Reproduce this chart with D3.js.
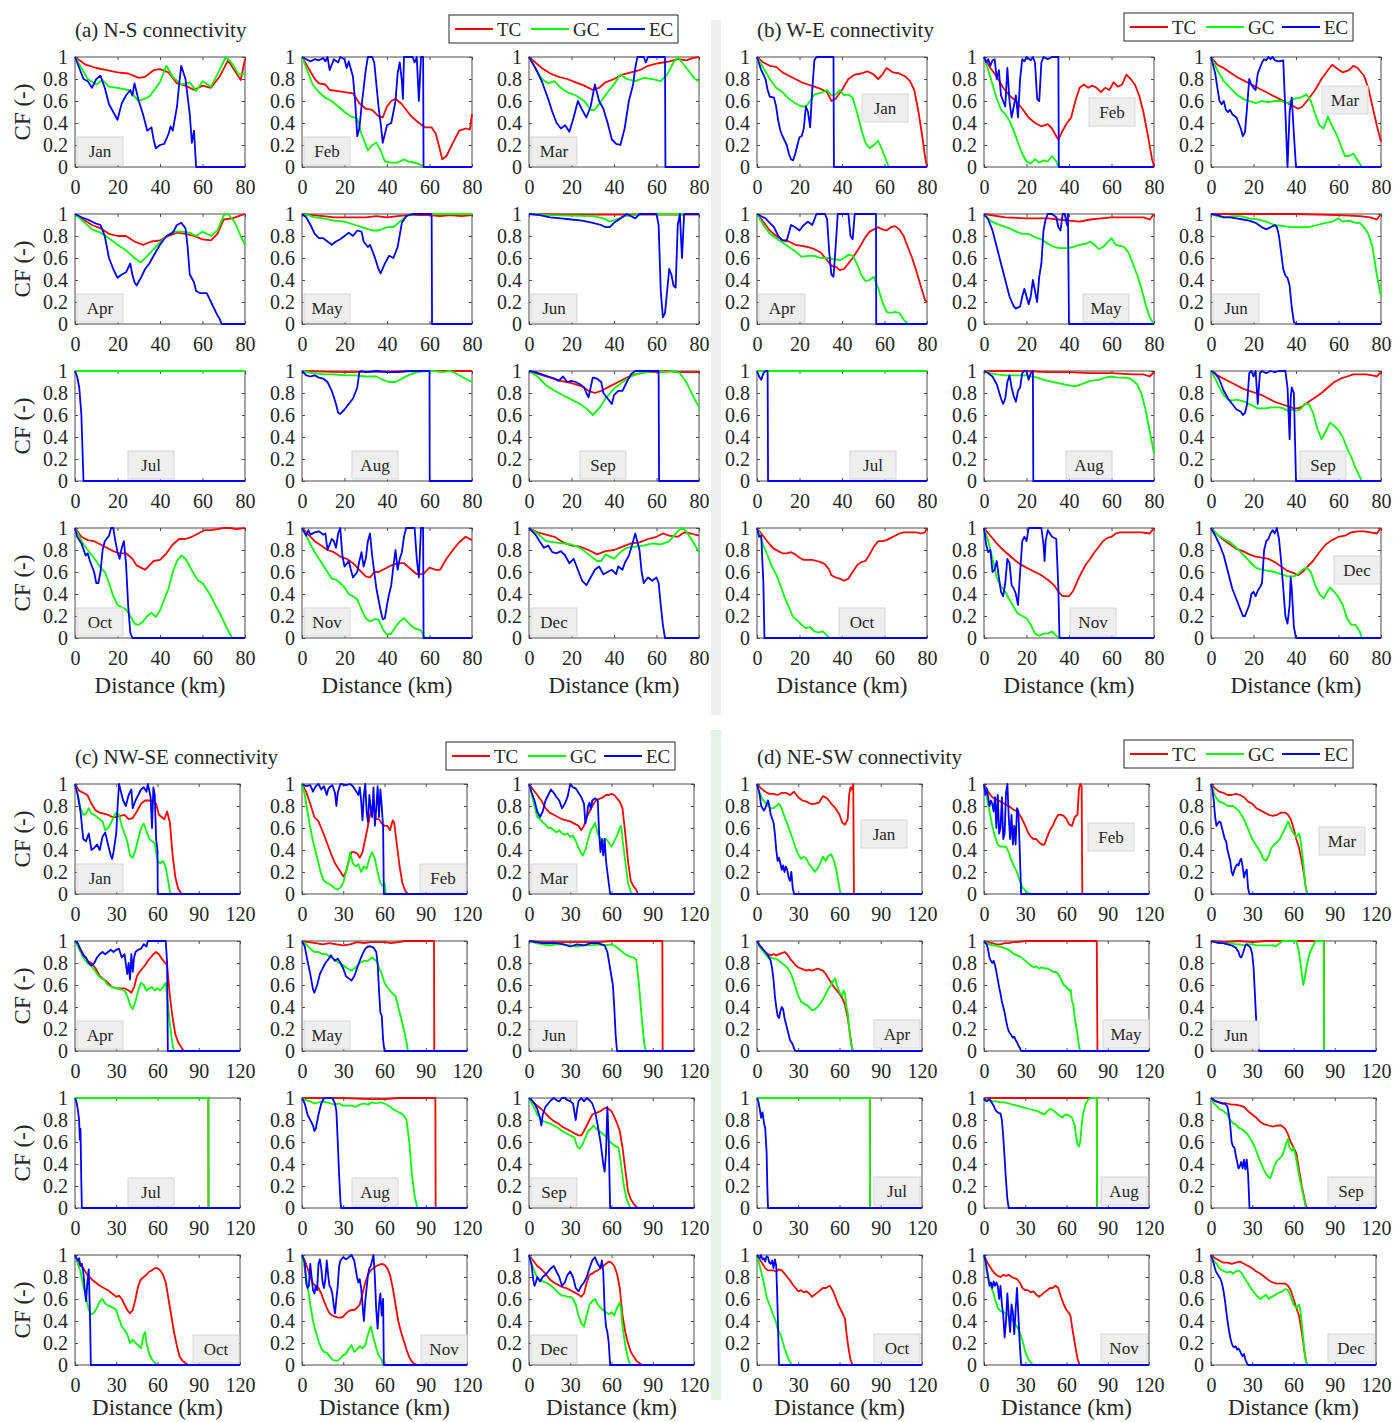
<!DOCTYPE html>
<html>
<head>
<meta charset="utf-8">
<script src="https://cdn.jsdelivr.net/npm/d3@7"></script>
<style>
  body { margin: 0; background: #fff; }
  svg { display: block; font-family: "Liberation Serif", "Times New Roman", serif; }
</style>
</head>
<body>
<svg id="fig" width="1394" height="1422"></svg>
<script>
// ---- shared labels and ticks ----
const months = ["Jan","Feb","Mar","Apr","May","Jun","Jul","Aug","Sep","Oct","Nov","Dec"];
const seriesNames = ["TC","GC","EC"];
const yTicks = [0, 0.2, 0.4, 0.6, 0.8, 1];
const xTicksAB = [0, 20, 40, 60, 80];
const xTicksCD = [0, 30, 60, 90, 120];

// ---- connectivity function CF(distance); each month: flat list x0,y0,x1,y1,... (km, -) ----
// (a) N-S
const NS_TC = [
 [0,1,5,0.93,10,0.9,15,0.88,20,0.86,25,0.85,30,0.81,33,0.82,37,0.88,40,0.89,44,0.86,48,0.76,52,0.74,56,0.7,60,0.74,64,0.72,68,0.82,72,0.97,75,0.88,78,0.79,80,0.98],
 [0,1,3,0.9,6,0.8,8,0.76,11,0.75,13,0.7,17,0.69,20,0.68,24,0.67,27,0.58,30,0.53,33,0.52,36,0.46,38,0.45,40,0.55,42,0.6,44,0.62,47,0.57,51,0.47,55,0.4,58,0.36,61,0.36,63,0.3,65,0.15,66,0.07,68,0.1,71,0.22,74,0.33,77,0.35,79,0.34,80,0.48],
 [0,1,3,0.95,6,0.9,10,0.85,14,0.82,18,0.8,22,0.77,26,0.74,30,0.7,33,0.72,36,0.77,40,0.8,44,0.84,48,0.86,52,0.88,56,0.92,60,0.94,63,0.95,66,0.96,70,0.98,74,0.97,77,0.99,80,1],
 [0,1,4,0.95,8,0.9,12,0.87,16,0.82,20,0.8,24,0.8,28,0.75,32,0.72,36,0.75,40,0.76,44,0.8,48,0.83,52,0.82,56,0.8,60,0.77,64,0.76,67,0.82,70,0.95,74,0.96,77,0.98,80,1],
 [0,1,5,0.99,10,0.98,15,0.97,20,0.97,25,0.97,30,0.97,35,0.98,40,0.97,45,0.98,50,0.99,55,0.99,60,0.99,65,0.98,70,0.99,75,0.98,80,0.99],
 [0,1,20,0.995,40,0.995,60,0.995,80,0.995],
 [0,1,80,1],
 [0,1,10,0.995,20,0.99,40,0.995,60,1,80,1],
 [0,1,5,0.97,10,0.94,15,0.91,20,0.89,25,0.86,28,0.82,31,0.8,34,0.82,38,0.86,42,0.9,46,0.94,50,0.97,55,0.99,60,0.99,65,1,70,0.99,75,0.99,80,0.99],
 [0,1,3,0.92,6,0.89,9,0.88,12,0.85,15,0.82,18,0.79,21,0.77,24,0.77,27,0.72,29,0.66,31,0.64,33,0.62,35,0.66,37,0.7,40,0.71,43,0.77,46,0.85,49,0.9,52,0.9,55,0.92,58,0.95,61,0.98,64,0.98,67,0.99,70,1,73,1,76,0.99,80,1],
 [0,1,3,0.94,6,0.88,9,0.84,12,0.8,15,0.78,18,0.74,21,0.72,24,0.68,27,0.62,30,0.56,32,0.55,34,0.6,36,0.6,39,0.63,42,0.66,45,0.68,48,0.68,51,0.63,54,0.58,57,0.58,60,0.64,63,0.62,65,0.62,68,0.72,71,0.8,74,0.87,77,0.92,80,0.89],
 [0,1,4,0.96,8,0.94,12,0.92,16,0.87,20,0.84,24,0.83,28,0.8,32,0.76,36,0.79,40,0.8,44,0.83,48,0.86,52,0.87,56,0.9,60,0.92,63,0.95,66,0.93,70,0.92,73,0.96,76,0.95,80,0.93]
];
const NS_GC = [
 [0,1,3,0.9,6,0.8,10,0.75,13,0.79,16,0.73,20,0.72,25,0.7,30,0.6,35,0.64,40,0.77,43,0.92,46,0.82,50,0.75,54,0.77,57,0.69,60,0.78,64,0.73,68,0.88,71,1,74,0.94,77,0.84,80,0.85],
 [0,1,3,0.85,5,0.75,8,0.68,11,0.63,14,0.6,17,0.55,20,0.5,23,0.46,26,0.44,28,0.3,31,0.15,33,0.2,35,0.22,37,0.15,39,0.05,42,0.04,45,0.04,48,0.07,50,0.05,53,0.04,56,0.02,57,0,80,0],
 [0,1,3,0.9,6,0.8,9,0.76,12,0.78,15,0.72,18,0.68,22,0.65,26,0.6,29,0.52,31,0.52,34,0.6,37,0.68,40,0.75,43,0.84,46,0.8,50,0.78,54,0.81,58,0.8,62,0.78,65,0.84,68,0.95,70,1,72,0.95,75,0.88,78,0.8,80,0.78],
 [0,1,4,0.93,8,0.86,12,0.83,16,0.78,20,0.72,24,0.67,28,0.6,31,0.56,34,0.62,38,0.7,42,0.78,46,0.84,50,0.84,54,0.83,57,0.8,60,0.84,64,0.8,67,0.85,70,0.99,72,1,75,0.93,78,0.8,80,0.72],
 [0,1,3,0.99,6,0.97,10,0.96,15,0.94,20,0.93,25,0.9,30,0.87,33,0.85,36,0.85,40,0.88,43,0.88,46,0.93,50,0.99,55,1,80,1],
 [0,1,10,0.99,20,0.985,30,0.98,35,0.96,38,0.93,41,0.95,45,0.98,50,0.99,55,1,80,1],
 [0,1,80,1],
 [0,1,5,0.98,10,0.97,15,0.97,20,0.96,25,0.96,30,0.95,35,0.95,38,0.92,41,0.9,44,0.9,47,0.93,50,0.96,54,0.99,58,1,62,1,66,0.99,70,1,73,0.97,77,0.93,80,0.9],
 [0,1,4,0.95,8,0.87,12,0.82,16,0.78,20,0.74,24,0.7,27,0.66,30,0.6,33,0.66,36,0.75,40,0.84,44,0.9,48,0.95,52,0.98,56,0.99,60,1,64,0.99,68,1,71,0.98,74,0.9,77,0.78,80,0.67],
 [0,1,2,0.92,4,0.85,6,0.8,8,0.75,10,0.7,12,0.64,14,0.6,16,0.5,18,0.38,20,0.3,22,0.28,24,0.26,26,0.2,28,0.13,30,0.12,32,0.15,34,0.2,36,0.23,38,0.19,40,0.25,42,0.35,44,0.45,46,0.6,48,0.7,50,0.75,52,0.72,54,0.65,56,0.58,58,0.52,60,0.5,62,0.44,64,0.38,66,0.3,68,0.23,70,0.15,72,0.07,74,0,80,0],
 [0,1,2,0.93,4,0.85,6,0.78,8,0.72,10,0.66,12,0.6,14,0.54,16,0.53,18,0.5,20,0.46,22,0.4,24,0.38,26,0.35,28,0.26,30,0.18,32,0.15,34,0.17,36,0.17,38,0.08,40,0.03,42,0.04,44,0.1,46,0.15,48,0.18,50,0.14,52,0.1,54,0.08,56,0.07,57,0.03,58,0,80,0],
 [0,1,4,0.95,8,0.88,12,0.87,16,0.86,20,0.85,24,0.82,28,0.76,32,0.7,34,0.7,36,0.76,38,0.74,40,0.72,43,0.78,46,0.82,50,0.83,54,0.84,58,0.86,62,0.85,66,0.88,70,0.97,72,1,74,0.97,77,0.88,80,0.78]
];
const NS_EC = [
 [0,1,2,0.9,4,0.8,6,0.78,8,0.72,10,0.8,12,0.83,14,0.72,16,0.57,18,0.5,20,0.43,22,0.58,24,0.65,26,0.7,27,0.65,28,0.76,30,0.6,32,0.48,34,0.33,36,0.36,37,0.25,38,0.17,40,0.2,42,0.21,44,0.3,45,0.37,46,0.33,48,0.55,49,0.75,50,0.92,52,0.8,54,0.48,55,0.22,56,0.33,57,0,80,0],
 [0,1,2,0.98,4,0.96,6,0.98,8,0.97,10,0.99,11,0.96,12,1,13,0.88,15,0.98,17,0.95,18,1,20,0.98,21,0.9,22,0.96,24,0.82,25,0.6,26,0.28,27,0.35,28,0.55,30,0.88,31,1,33,1,34,0.95,35,0.75,36,0.55,37,0.4,38,0.22,39,0.3,40,0.38,42,0.4,44,0.6,45,0.85,46,0.95,47,0.78,47.5,0.62,48,1,52,1,53,0.95,54,1,55,0.6,56,1,57,1,57.2,0,80,0],
 [0,1,3,0.9,6,0.78,9,0.62,11,0.5,13,0.4,15,0.35,17,0.38,19,0.32,21,0.45,23,0.6,25,0.52,27,0.45,29,0.55,31,0.75,33,0.6,35,0.53,37,0.4,39,0.25,41,0.21,43,0.2,45,0.35,47,0.6,49,0.75,50,0.9,51,1,54,1,55,0.95,56,1,64,1,64.2,0,80,0],
 [0,1,3,0.97,6,0.95,9,0.92,12,0.9,14,0.8,16,0.6,18,0.5,20,0.42,22,0.45,24,0.47,26,0.55,27,0.45,28,0.38,29,0.35,31,0.42,33,0.5,35,0.55,37,0.62,40,0.72,43,0.8,46,0.83,48,0.9,50,0.92,52,0.87,53,0.7,54,0.45,56,0.38,57,0.3,59,0.28,62,0.28,64,0.2,66,0.12,67,0.08,68,0.05,69,0,80,0],
 [0,1,2,0.97,4,0.9,6,0.82,8,0.78,10,0.78,12,0.75,14,0.72,16,0.75,18,0.77,20,0.8,22,0.83,24,0.8,26,0.85,28,0.84,29,0.75,31,0.7,32,0.72,34,0.62,36,0.5,37,0.46,39,0.55,41,0.62,43,0.6,45,0.7,47,0.92,49,0.98,52,1,61,1,61.2,0,80,0],
 [0,1,5,0.99,10,0.97,15,0.96,20,0.95,25,0.94,30,0.92,34,0.9,36,0.88,38,0.88,40,0.92,43,0.96,46,1,48,0.98,50,0.96,52,1,60,1,61,0.9,62,0.3,63,0.06,64,0.1,65,0.3,66,0.5,67,0.45,68,0.35,69,0.33,70,0.9,71,1,72,0.6,73,1,80,1],
 [0,1,1,0.95,2,0.85,3,0.6,3.5,0.3,4,0,80,0],
 [0,1,2,0.96,4,0.95,6,0.96,8,0.94,10,0.93,12,0.9,14,0.82,16,0.7,17,0.62,18,0.61,20,0.65,22,0.7,24,0.75,26,0.85,27,0.99,28,1,30,0.99,35,1,40,0.99,45,0.99,50,1,60,1,60.1,0,80,0],
 [0,1,3,0.99,6,0.97,9,0.95,12,0.93,14,0.91,16,0.95,18,0.9,20,0.91,22,0.9,24,0.88,26,0.85,27,0.8,28,0.76,29,0.85,30,0.94,32,0.93,34,0.9,35,0.8,37,0.75,39,0.7,40,0.78,42,0.82,44,0.82,46,0.9,48,0.97,50,1,61,1,61.2,0,80,0],
 [0,1,1,0.92,3,0.86,5,0.75,6,0.77,7,0.7,9,0.6,10,0.5,11,0.5,12,0.6,13,0.8,14,0.88,16,0.93,17,1,18,1,19,0.88,20,0.78,21,0.72,22,0.82,23,0.88,24,0.68,25,0.3,26,0.05,27,0,80,0],
 [0,1,2,0.93,3,0.98,4,0.94,6,0.96,8,0.97,10,0.94,11,0.95,12,0.8,13,0.85,14,0.9,15,0.88,16,0.82,17,0.95,18,1,19,0.75,20,0.65,22,0.7,23,0.62,24,0.55,26,0.6,27,0.7,28,0.78,29,0.65,30,0.72,31,0.88,32,0.95,33,0.75,34,0.6,35,0.45,36,0.35,37,0.25,38,0.17,39,0.18,40,0.3,41,0.4,42,0.48,43,0.65,44,0.8,45,0.62,46,0.72,47,0.78,48,0.92,49,1,53,1,54,0.72,55,0.55,56,1,57,1,57.2,0,80,0],
 [0,1,3,0.94,5,0.88,7,0.82,9,0.84,11,0.78,13,0.77,15,0.79,17,0.75,19,0.68,21,0.72,23,0.62,25,0.52,27,0.48,29,0.55,31,0.62,33,0.65,35,0.58,37,0.6,39,0.62,41,0.58,42,0.65,44,0.62,45,0.68,47,0.75,49,0.88,50,0.95,52,0.8,53,0.6,54,0.5,56,0.55,58,0.52,60,0.55,61,0.5,62,0.3,63,0.12,64,0,80,0]
];

// (b) W-E
const WE_TC = [
 [0,1,3,0.95,6,0.92,9,0.91,12,0.86,15,0.83,18,0.8,21,0.77,24,0.75,27,0.73,30,0.71,33,0.68,35,0.6,37,0.62,40,0.7,43,0.8,46,0.84,49,0.85,52,0.87,55,0.84,57,0.8,59,0.84,61,0.9,64,0.86,67,0.85,70,0.82,72,0.78,74,0.7,76,0.5,78,0.25,79,0.1,80,0],
 [0,1,3,0.9,6,0.82,9,0.72,12,0.65,15,0.6,18,0.53,21,0.45,24,0.4,27,0.37,30,0.39,32,0.35,34,0.28,35,0.25,37,0.33,39,0.4,41,0.45,43,0.6,45,0.72,47,0.75,49,0.72,51,0.74,53,0.72,55,0.68,57,0.72,59,0.7,61,0.77,63,0.73,65,0.75,67,0.84,69,0.8,71,0.75,73,0.65,75,0.5,77,0.3,79,0.08,80,0],
 [0,1,3,0.93,6,0.9,9,0.86,12,0.82,15,0.79,18,0.76,21,0.73,24,0.7,27,0.67,30,0.64,33,0.61,36,0.58,39,0.55,41,0.53,43,0.55,46,0.62,49,0.7,52,0.8,55,0.88,57,0.93,59,0.9,62,0.86,65,0.88,67,0.92,69,0.9,72,0.83,74,0.72,76,0.55,78,0.38,80,0.23],
 [0,1,3,0.93,6,0.85,9,0.8,12,0.76,15,0.75,18,0.72,21,0.71,24,0.7,27,0.68,30,0.65,33,0.58,35,0.53,37,0.52,39,0.49,41,0.5,43,0.55,45,0.6,47,0.66,49,0.72,51,0.79,53,0.84,55,0.86,57,0.88,59,0.86,61,0.85,63,0.88,65,0.89,67,0.86,69,0.8,71,0.7,73,0.6,75,0.48,77,0.35,79,0.22,80,0.2],
 [0,1,10,0.97,20,0.96,30,0.96,35,0.95,40,0.94,45,0.93,50,0.95,55,0.96,60,0.97,65,0.97,70,0.97,75,0.97,78,0.95,80,1],
 [0,1,20,1,40,1,60,0.99,70,0.98,75,0.97,78,0.95,80,1],
 [0,1,80,1],
 [0,1,10,1,20,1,30,0.99,40,0.99,50,0.98,60,0.98,70,0.97,75,0.97,78,0.95,80,0.99],
 [0,1,3,0.96,6,0.93,9,0.9,12,0.87,15,0.84,18,0.82,21,0.8,24,0.78,27,0.75,30,0.72,33,0.7,36,0.68,39,0.66,41,0.66,43,0.68,46,0.72,49,0.76,52,0.8,55,0.85,58,0.9,61,0.93,64,0.95,67,0.97,70,0.97,73,0.97,76,0.96,78,0.95,80,0.99],
 [0,1,2,0.95,4,0.9,6,0.85,8,0.81,10,0.79,12,0.77,14,0.77,16,0.78,18,0.76,20,0.73,22,0.71,24,0.71,26,0.71,28,0.7,30,0.69,32,0.67,34,0.62,35,0.57,37,0.55,39,0.54,41,0.52,43,0.54,45,0.6,47,0.66,49,0.69,51,0.7,53,0.76,55,0.83,57,0.88,59,0.88,61,0.89,63,0.91,65,0.93,67,0.95,69,0.96,71,0.96,75,0.96,77,0.95,79,0.96,80,1],
 [0,1,3,0.93,6,0.86,9,0.8,12,0.75,15,0.7,18,0.66,21,0.63,24,0.6,27,0.57,30,0.53,33,0.48,35,0.42,37,0.38,40,0.38,42,0.43,44,0.52,46,0.6,48,0.67,50,0.72,52,0.78,54,0.83,56,0.88,58,0.91,60,0.92,62,0.95,64,0.96,70,0.96,74,0.96,78,0.95,80,1],
 [0,1,3,0.94,6,0.89,9,0.85,12,0.81,15,0.79,18,0.76,21,0.74,24,0.73,27,0.72,30,0.69,33,0.65,36,0.61,39,0.59,41,0.57,43,0.6,45,0.64,48,0.7,51,0.78,54,0.85,57,0.89,60,0.92,63,0.93,66,0.96,69,0.97,72,0.97,75,0.96,78,0.95,80,1]
];
const WE_GC = [
 [0,1,3,0.9,6,0.8,9,0.72,12,0.68,15,0.62,18,0.58,21,0.55,23,0.55,25,0.6,27,0.66,29,0.67,31,0.68,33,0.7,35,0.65,37,0.66,39,0.7,41,0.65,43,0.66,45,0.63,47,0.5,49,0.35,51,0.22,53,0.17,55,0.2,57,0.24,59,0.15,61,0.05,62,0,80,0],
 [0,1,2,0.88,4,0.75,6,0.62,8,0.52,10,0.48,12,0.42,14,0.33,16,0.22,18,0.12,20,0.05,22,0.03,24,0.07,26,0.04,28,0.06,30,0.05,32,0.1,34,0.05,35,0,80,0],
 [0,1,3,0.88,6,0.78,9,0.72,12,0.66,15,0.62,18,0.6,21,0.58,24,0.6,27,0.59,30,0.6,33,0.6,36,0.58,39,0.62,42,0.63,45,0.66,47,0.6,49,0.48,51,0.38,53,0.35,55,0.46,57,0.37,59,0.3,61,0.2,63,0.1,65,0.1,67,0.12,69,0.06,71,0,80,0],
 [0,1,3,0.9,6,0.82,9,0.78,12,0.74,15,0.7,18,0.66,21,0.61,24,0.62,27,0.62,30,0.6,33,0.6,36,0.59,39,0.58,41,0.6,43,0.63,45,0.62,47,0.55,49,0.45,51,0.39,53,0.4,55,0.43,57,0.33,59,0.2,61,0.11,63,0.1,65,0.11,67,0.1,69,0.04,71,0,80,0],
 [0,1,3,0.94,6,0.91,9,0.89,12,0.87,15,0.84,18,0.82,21,0.82,24,0.79,27,0.77,30,0.73,33,0.7,36,0.69,39,0.69,42,0.7,45,0.72,48,0.73,50,0.75,52,0.72,54,0.68,56,0.7,58,0.74,60,0.78,62,0.72,64,0.71,66,0.7,68,0.65,70,0.55,72,0.45,74,0.33,76,0.18,78,0.06,80,0],
 [0,1,3,0.98,6,0.97,10,0.98,14,0.98,18,0.96,22,0.95,26,0.93,30,0.9,34,0.89,38,0.88,42,0.88,46,0.88,50,0.9,54,0.92,57,0.93,60,0.96,62,0.93,65,0.94,68,0.92,70,0.92,72,0.88,74,0.82,76,0.7,78,0.45,80,0.25],
 [0,1,80,1],
 [0,1,3,0.98,6,0.97,10,0.96,15,0.96,20,0.96,25,0.94,30,0.91,35,0.89,40,0.87,43,0.86,46,0.88,50,0.91,54,0.92,57,0.94,60,0.95,63,0.94,66,0.94,69,0.93,72,0.88,74,0.8,76,0.65,78,0.45,80,0.25],
 [0,1,2,0.93,4,0.85,6,0.78,8,0.74,10,0.73,12,0.74,14,0.73,16,0.72,18,0.7,20,0.68,22,0.66,24,0.66,26,0.66,28,0.67,30,0.67,32,0.67,34,0.66,36,0.64,38,0.65,40,0.64,42,0.65,44,0.7,46,0.7,48,0.62,50,0.48,52,0.38,54,0.45,56,0.53,58,0.5,60,0.46,62,0.4,64,0.3,66,0.22,68,0.12,70,0.04,71,0,80,0],
 [0,1,1,0.96,2,0.9,3,0.84,5,0.75,7,0.65,9,0.58,11,0.48,13,0.37,15,0.28,17,0.19,19,0.16,21,0.12,23,0.09,25,0.1,27,0.06,29,0.05,31,0.06,33,0.02,34,0,80,0],
 [0,1,2,0.88,4,0.72,6,0.55,8,0.47,10,0.42,12,0.35,14,0.28,16,0.22,18,0.2,20,0.18,22,0.12,24,0.04,26,0.02,28,0.04,30,0.04,32,0.06,34,0.02,35,0,80,0],
 [0,1,3,0.94,6,0.9,9,0.87,12,0.82,15,0.76,18,0.7,21,0.64,24,0.62,27,0.61,30,0.6,33,0.58,36,0.56,39,0.56,41,0.58,43,0.62,45,0.64,47,0.6,49,0.48,51,0.4,53,0.36,55,0.43,56,0.46,58,0.42,60,0.37,62,0.3,64,0.18,66,0.12,68,0.12,70,0.06,71,0,80,0]
];
const WE_EC = [
 [0,1,2,0.88,4,0.8,5,0.7,6,0.64,8,0.63,9,0.55,10,0.42,11,0.33,12,0.28,14,0.2,15,0.12,16,0.07,17,0.06,18,0.12,19,0.2,20,0.27,21,0.28,22,0.35,23,0.55,24,0.5,25,0.36,26,0.7,27,0.97,28,1,36,1,36.2,0,80,0],
 [0,1,1,0.95,2,0.98,3,0.92,4,0.97,5,0.98,6,0.8,7,0.88,8,0.65,9,0.6,10,0.55,11,0.9,12,0.6,13,0.45,14,0.55,15,0.65,16,0.45,17,0.8,18,0.98,19,0.96,20,1,22,0.97,23,1,24,0.95,25,0.62,26,0.6,27,0.95,28,1,30,0.98,32,1,35,1,35.2,0,80,0],
 [0,1,2,0.85,3,0.72,4,0.6,5,0.57,6,0.6,7,0.52,8,0.5,9,0.52,10,0.48,12,0.45,14,0.35,15,0.28,16,0.32,17,0.55,18,0.8,19,0.75,20,0.72,21,0.7,22,0.85,23,0.9,24,0.95,25,0.98,26,0.97,27,1,28,0.98,29,1,30,0.97,32,0.96,34,0.97,35,0.5,36,0,37,0.5,38,0.63,39,0.3,40,0,80,0],
 [0,1,2,0.98,4,0.96,6,0.92,8,0.88,10,0.8,12,0.76,14,0.76,16,0.9,18,0.88,20,0.85,22,0.9,24,0.93,26,0.9,28,1,32,1,33,0.95,34,0.65,35,0.45,36,0.43,37,0.7,38,1,43,1,44,0.8,45,0.77,46,1,56,1,56.1,0,80,0],
 [0,1,2,0.95,4,0.85,6,0.7,8,0.55,10,0.4,12,0.25,14,0.16,15,0.14,17,0.16,18,0.25,19,0.32,20,0.25,21,0.18,22,0.25,23,0.4,24,0.3,25,0.2,26,0.43,27,0.55,28,0.85,29,0.95,30,1,32,1,34,0.97,35,0.88,36,0.85,37,1,38,1,39,0.9,39.5,1,40,0,80,0],
 [0,1,3,0.99,6,0.97,9,0.97,12,0.96,15,0.95,18,0.94,21,0.92,24,0.88,26,0.86,28,0.88,30,0.9,31,0.88,32,0.8,33,0.65,34,0.5,35,0.44,36,0.42,37,0.35,38,0.15,39,0.02,40,0,80,0],
 [0,1,1,0.95,2,0.92,3,0.98,4,1,5,1,5.2,0,80,0],
 [0,1,2,0.98,4,0.95,6,0.88,8,0.75,9,0.7,10,0.75,11,0.9,12,0.96,13,0.85,14,0.77,15,0.72,16,0.82,17,0.85,18,0.98,19,1,20,1,21,0.92,22,0.98,23,1,23.2,0,80,0],
 [0,1,2,0.98,4,0.92,6,0.82,8,0.75,10,0.7,12,0.65,14,0.63,15,0.6,16,0.62,17,0.7,18,0.98,19,1,20,0.95,21,1,22,0.7,23,0.98,24,1,26,0.98,28,1,30,0.99,32,1,35,1,36,0.85,37,0.38,37.5,0.75,38,0.85,39,0.8,40,0,80,0],
 [0,1,1,0.92,2,0.93,3,0.5,3.5,0,80,0],
 [0,1,1,0.85,2,0.78,3,0.8,4,0.6,5,0.62,6,0.7,7,0.55,8,0.42,9,0.38,10,0.5,11,0.72,12,0.68,13,0.48,14,0.45,15,0.4,16,0.3,17,0.6,18,0.88,19,0.92,20,0.88,21,1,27,1,28,0.85,28.5,0.7,29,0.88,30,0.98,31,0.95,32,0.92,34,0.9,35,0.45,35.5,0,80,0],
 [0,1,2,0.93,4,0.85,6,0.75,8,0.6,10,0.45,12,0.35,14,0.25,15,0.2,16,0.2,18,0.3,19,0.4,20,0.42,21,0.38,22,0.43,23,0.46,24,0.5,25,0.8,26,0.88,27,0.9,28,0.95,29,0.98,30,0.95,31,1,32,0.9,33,0.7,34,0.45,35,0.2,36,0.13,37,0.3,37.5,0.55,38,0.45,39,0.1,40,0,80,0]
];

// (c) NW-SE
const NWSE_TC = [
 [0,1,3,0.94,6,0.92,9,0.9,12,0.82,15,0.76,18,0.74,21,0.73,24,0.72,27,0.7,30,0.7,33,0.71,36,0.72,39,0.68,42,0.69,45,0.75,48,0.82,51,0.85,54,0.85,57,0.85,59,0.82,61,0.72,63,0.7,65,0.68,67,0.75,69,0.65,71,0.35,73,0.15,75,0.05,77,0.01,78,0,120,0],
 [0,1,3,0.93,6,0.82,9,0.7,12,0.66,15,0.57,18,0.47,21,0.37,24,0.28,27,0.22,30,0.16,32,0.2,34,0.3,36,0.38,38,0.38,40,0.37,42,0.33,44,0.38,46,0.5,48,0.62,50,0.75,52,0.78,54,0.68,56,0.68,58,0.64,60,0.62,62,0.62,64,0.58,66,0.67,67,0.65,69,0.45,71,0.25,73,0.1,75,0.03,77,0,120,0],
 [0,1,3,0.95,6,0.9,9,0.85,12,0.78,15,0.74,18,0.72,21,0.7,24,0.68,27,0.67,30,0.66,33,0.64,36,0.62,38,0.58,40,0.62,42,0.7,44,0.75,46,0.8,48,0.84,50,0.86,52,0.87,54,0.88,56,0.9,58,0.9,60,0.91,62,0.9,64,0.87,66,0.84,68,0.78,70,0.55,72,0.3,74,0.12,76,0.07,78,0.04,79,0,120,0],
 [0,1,3,0.95,6,0.88,9,0.82,12,0.8,15,0.75,18,0.68,21,0.65,24,0.62,27,0.58,30,0.57,33,0.57,36,0.57,39,0.55,41,0.53,43,0.58,45,0.68,47,0.72,49,0.75,51,0.78,53,0.82,55,0.85,57,0.88,59,0.9,61,0.88,63,0.84,65,0.81,67,0.78,69,0.5,71,0.3,73,0.15,75,0.08,77,0.04,79,0,120,0],
 [0,1,5,0.99,10,0.98,15,0.97,20,0.98,25,0.97,30,0.96,35,0.97,40,0.99,45,0.98,50,0.99,60,0.99,65,0.98,70,0.99,75,1,96,1,96.2,0,120,0],
 [0,1,10,0.99,20,0.99,30,0.99,40,0.99,50,0.99,60,1,97,1,97.2,0,120,0],
 [0,1,97,1,97.1,0,120,0],
 [0,1,10,1,20,1,30,1,40,0.995,50,0.99,60,0.99,70,1,97,1,97.2,0,120,0],
 [0,1,3,0.96,6,0.93,9,0.9,12,0.86,15,0.82,18,0.79,21,0.77,24,0.74,27,0.72,30,0.7,33,0.68,36,0.66,38,0.66,40,0.7,42,0.75,44,0.8,46,0.85,48,0.86,50,0.87,52,0.88,54,0.9,56,0.91,58,0.9,60,0.88,62,0.83,64,0.77,66,0.7,68,0.55,70,0.35,72,0.15,74,0.08,76,0.04,78,0.01,80,0,120,0],
 [0,1,3,0.92,6,0.88,9,0.82,12,0.78,15,0.75,18,0.72,21,0.7,24,0.68,27,0.65,30,0.62,32,0.63,34,0.6,36,0.55,38,0.5,40,0.47,42,0.5,44,0.6,46,0.72,48,0.78,50,0.8,52,0.82,54,0.85,56,0.86,58,0.88,60,0.88,62,0.86,64,0.82,66,0.75,68,0.6,70,0.45,72,0.3,74,0.18,76,0.08,78,0.04,80,0.02,82,0,120,0],
 [0,1,2,0.95,4,0.88,6,0.8,8,0.74,10,0.72,12,0.7,14,0.65,16,0.58,18,0.52,20,0.47,22,0.45,24,0.44,26,0.43,28,0.43,30,0.44,32,0.47,34,0.49,36,0.5,38,0.5,40,0.52,42,0.55,44,0.65,46,0.75,48,0.82,50,0.86,52,0.88,54,0.9,56,0.91,58,0.92,60,0.91,62,0.88,64,0.82,66,0.7,68,0.55,70,0.4,72,0.3,74,0.22,76,0.14,78,0.07,80,0.03,82,0.01,84,0,120,0],
 [0,1,3,0.95,6,0.9,9,0.87,12,0.83,15,0.78,18,0.75,21,0.73,24,0.71,27,0.7,30,0.68,33,0.66,36,0.64,38,0.62,40,0.65,42,0.75,44,0.82,46,0.83,48,0.85,50,0.86,52,0.88,54,0.9,56,0.92,58,0.94,60,0.93,62,0.9,64,0.83,66,0.7,68,0.45,70,0.3,72,0.2,74,0.12,76,0.08,78,0.04,80,0.02,82,0,120,0]
];
const NWSE_GC = [
 [0,1,2,0.9,4,0.78,6,0.72,8,0.73,10,0.78,12,0.73,14,0.72,16,0.7,18,0.68,20,0.66,22,0.58,24,0.6,26,0.64,28,0.7,30,0.74,32,0.72,34,0.62,36,0.55,38,0.48,40,0.35,42,0.33,44,0.4,46,0.5,48,0.6,50,0.64,52,0.57,54,0.5,56,0.48,58,0.46,60,0.3,62,0.28,64,0.3,66,0.24,68,0.1,69,0.02,70,0,120,0],
 [0,1,2,0.9,4,0.75,6,0.6,8,0.48,10,0.38,12,0.28,14,0.18,16,0.12,18,0.1,20,0.09,22,0.07,24,0.05,26,0.04,28,0.06,30,0.1,32,0.2,34,0.3,35,0.38,37,0.28,39,0.25,41,0.27,43,0.2,45,0.25,47,0.23,49,0.32,51,0.38,53,0.32,55,0.2,57,0.1,59,0.07,60,0.1,61,0,120,0],
 [0,1,2,0.9,4,0.8,6,0.7,8,0.68,10,0.65,12,0.63,14,0.6,16,0.6,18,0.58,20,0.56,22,0.58,24,0.55,26,0.54,28,0.55,30,0.52,32,0.53,34,0.48,36,0.42,38,0.37,39,0.35,41,0.4,43,0.5,45,0.58,47,0.62,48,0.65,50,0.55,52,0.5,54,0.48,56,0.5,58,0.47,60,0.43,62,0.48,64,0.53,66,0.6,67,0.62,68,0.5,70,0.3,72,0.1,74,0.02,75,0,120,0],
 [0,1,3,0.93,6,0.85,9,0.8,12,0.77,15,0.72,18,0.67,21,0.65,24,0.6,27,0.58,30,0.57,33,0.56,36,0.55,38,0.5,40,0.42,42,0.38,44,0.45,46,0.55,48,0.62,50,0.6,52,0.55,54,0.57,56,0.58,58,0.55,60,0.57,62,0.55,64,0.58,66,0.62,67,0.5,69,0.25,71,0.05,72,0,120,0],
 [0,1,3,0.97,6,0.93,9,0.9,12,0.9,15,0.88,18,0.88,21,0.85,24,0.83,27,0.8,30,0.78,33,0.75,36,0.73,39,0.76,42,0.8,45,0.82,48,0.82,51,0.85,54,0.82,56,0.76,58,0.7,60,0.62,62,0.58,64,0.55,66,0.52,68,0.5,70,0.4,72,0.3,74,0.2,76,0.08,77,0,120,0],
 [0,1,5,0.98,10,0.97,15,0.96,20,0.97,25,0.97,30,0.96,35,0.95,40,0.96,45,0.96,50,0.97,55,0.96,60,0.97,63,0.95,66,0.92,70,0.88,73,0.86,76,0.85,78,0.83,80,0.6,82,0.3,84,0.05,85,0,120,0],
 [0,1,97,1,97.1,0,120,0],
 [0,1,3,0.98,6,0.97,9,0.95,12,0.96,15,0.97,18,0.96,21,0.95,24,0.94,27,0.95,30,0.93,33,0.93,36,0.93,39,0.92,42,0.94,45,0.95,48,0.94,51,0.96,54,0.95,57,0.96,60,0.95,63,0.93,66,0.9,69,0.88,72,0.86,74,0.84,76,0.8,78,0.6,80,0.3,82,0.1,84,0,120,0],
 [0,1,3,0.93,6,0.85,9,0.8,12,0.78,15,0.77,18,0.75,21,0.73,24,0.7,27,0.68,30,0.66,33,0.64,35,0.56,37,0.54,39,0.58,41,0.64,43,0.7,45,0.72,47,0.75,49,0.72,51,0.7,53,0.68,55,0.66,57,0.64,59,0.6,61,0.58,63,0.56,65,0.55,67,0.4,69,0.2,71,0.08,73,0.02,74,0,120,0],
 [0,1,2,0.92,4,0.85,6,0.72,8,0.62,10,0.5,12,0.46,14,0.48,16,0.52,18,0.58,20,0.6,22,0.56,24,0.54,26,0.53,28,0.52,30,0.5,32,0.42,34,0.35,36,0.32,38,0.28,40,0.2,42,0.23,44,0.2,46,0.18,48,0.15,50,0.28,51,0.3,52,0.2,54,0.1,56,0.05,58,0.02,60,0,120,0],
 [0,1,2,0.88,4,0.72,6,0.55,8,0.4,10,0.3,12,0.22,14,0.15,16,0.12,18,0.11,20,0.08,22,0.05,24,0.04,26,0.04,28,0.06,30,0.09,32,0.1,34,0.15,36,0.18,38,0.12,40,0.14,42,0.17,44,0.15,46,0.18,48,0.28,50,0.35,52,0.25,54,0.15,56,0.08,58,0.05,59,0,120,0],
 [0,1,2,0.92,4,0.85,6,0.8,8,0.77,10,0.76,12,0.75,14,0.74,16,0.72,18,0.7,20,0.67,22,0.65,24,0.63,26,0.63,28,0.62,30,0.62,32,0.6,34,0.55,36,0.45,38,0.38,40,0.35,42,0.45,44,0.55,46,0.58,48,0.6,50,0.55,52,0.52,54,0.5,56,0.48,58,0.46,60,0.48,62,0.45,64,0.52,66,0.57,67,0.5,68,0.35,70,0.18,72,0.06,73,0.02,74,0,120,0]
];
const NWSE_EC = [
 [0,1,2,0.9,4,0.75,6,0.5,8,0.48,10,0.55,12,0.4,14,0.42,16,0.45,18,0.4,20,0.52,22,0.56,24,0.45,26,0.35,27,0.32,28,0.38,30,0.55,31,0.8,32,1,33,0.95,35,0.85,37,0.8,39,0.9,41,0.95,42,0.78,44,0.85,46,0.9,48,0.95,50,0.97,52,0.93,53,1,55,0.88,56,0.6,57,0.97,58,0.9,59,0.5,60,0.4,60.2,0,120,0],
 [0,1,3,0.98,6,0.99,8,0.93,10,0.98,12,1,14,0.95,16,0.98,18,0.9,19,0.95,20,0.97,22,0.99,24,0.92,25,0.8,26,0.92,28,1,32,0.99,35,1,37,0.98,39,0.94,41,0.9,42,0.97,43,0.85,44,0.67,45,0.9,46,1,47,0.75,48,0.65,49,0.9,50,0.78,51,0.7,52,0.97,53,0.62,54,0.78,55,0.98,56,0.7,57,0.95,58,0.8,59,0.6,59.5,0,120,0],
 [0,1,2,0.92,4,0.85,6,0.75,8,0.7,10,0.75,12,0.85,14,0.9,16,0.95,18,0.92,20,0.88,22,0.85,24,0.78,26,0.82,28,0.88,30,1,32,0.97,34,0.96,36,0.92,38,0.88,40,0.82,41,0.64,42,0.7,43,0.8,44,0.83,45,0.77,46,0.85,48,0.87,50,0.85,51,0.55,52,0.38,53,0.5,54,0.35,55,0.5,56,0.3,57,0.2,58,0.1,59,0,120,0],
 [0,1,2,0.98,4,0.92,6,0.87,8,0.85,10,0.8,12,0.78,14,0.8,16,0.85,18,0.88,20,0.9,22,0.88,24,0.9,26,0.92,28,0.9,30,0.92,32,0.93,34,0.85,36,0.88,38,0.7,39,0.8,40,0.65,41,0.88,42,0.72,43,0.85,44,0.9,46,0.92,48,0.93,50,0.97,52,0.95,53,1,66,1,67,0.8,67.5,0,120,0],
 [0,1,2,0.95,4,0.82,6,0.7,8,0.56,9,0.53,11,0.6,13,0.7,15,0.75,17,0.8,19,0.83,21,0.87,22,0.85,24,0.82,26,0.84,28,0.8,30,0.75,32,0.68,34,0.66,36,0.64,38,0.68,40,0.75,42,0.82,44,0.88,46,0.93,48,0.95,50,0.95,52,0.94,54,0.9,55,0.8,56,0.55,57,0.35,58,0.32,59,0.1,60,0,120,0],
 [0,1,5,0.99,10,0.98,15,0.98,20,0.98,25,0.97,30,0.95,35,0.97,40,0.96,45,0.98,50,0.98,55,0.96,57,0.9,59,0.75,61,0.6,62,0.4,63,0.15,64,0,120,0],
 [0,1,1,0.97,2,0.9,3,0.8,3.5,0.62,4,0.72,4.5,0.3,5,0,120,0],
 [0,1,2,0.95,4,0.85,6,0.8,8,0.75,9,0.7,10,0.72,12,0.85,14,0.95,16,1,22,1,24,0.95,25,0.88,26,0.6,27,0.3,28,0.05,28.5,0,120,0],
 [0,1,2,0.98,4,0.95,6,0.9,8,0.82,9,0.75,10,0.85,12,0.92,14,0.95,16,0.98,18,1,20,0.98,22,0.97,24,1,26,1,28,0.98,30,0.97,32,0.95,34,0.8,35,0.9,36,0.97,38,1,40,0.97,42,1,44,0.98,46,0.95,48,0.88,50,0.75,52,0.6,54,0.4,55,0.33,56,0.5,57,0.92,58,0.6,59,0,120,0],
 [0,1,1,0.97,2,0.95,3,0.97,4,0.9,5,0.92,6,0.85,7,0.7,8,0.58,9,0.75,10,0.87,11,0.4,11.5,0,120,0],
 [0,1,2,0.93,3,0.75,4,0.7,5,0.72,6,0.92,7,0.8,8,0.68,9,0.65,10,0.72,11,0.68,12,0.92,13,0.96,14,0.88,15,0.75,16,0.7,17,0.78,18,0.95,19,0.82,20,0.72,21,0.7,22,0.65,23,0.55,24,0.47,25,0.6,26,0.72,27,0.9,28,0.95,30,0.98,32,0.96,34,0.98,36,1,38,0.95,40,0.8,41,0.75,42,0.78,43,0.7,44,0.55,45,0.4,46,0.58,47,0.7,48,0.82,49,0.88,50,0.9,51,0.95,52,1,53,0.8,54,0.5,55,0.33,56,0.55,57,0.65,58,0.45,59,0.6,59.5,0,120,0],
 [0,1,2,0.9,3,0.78,4,0.72,5,0.75,6,0.8,8,0.76,10,0.8,12,0.82,14,0.85,16,0.88,18,0.9,20,0.85,22,0.8,24,0.72,26,0.75,28,0.82,30,0.85,32,0.8,34,0.7,36,0.67,38,0.72,40,0.75,42,0.8,44,0.88,46,0.95,48,0.98,50,0.92,52,0.88,53,0.95,54,0.85,55,0.5,56,0.35,57,0.3,58,0.2,59,0,120,0]
];

// (d) NE-SW
const NESW_TC = [
 [0,1,3,0.96,6,0.93,9,0.91,12,0.91,15,0.9,18,0.92,21,0.92,24,0.9,27,0.93,30,0.88,33,0.85,36,0.84,39,0.82,42,0.82,45,0.83,48,0.89,51,0.87,54,0.82,57,0.78,60,0.72,62,0.65,64,0.63,66,0.68,67,0.9,68,0.97,69,0.95,70,1,70.5,0,120,0],
 [0,1,3,0.93,6,0.88,9,0.86,12,0.84,15,0.82,18,0.8,21,0.77,24,0.75,27,0.7,30,0.62,32,0.56,34,0.52,36,0.5,38,0.5,40,0.47,42,0.45,44,0.45,46,0.52,48,0.58,50,0.62,52,0.68,54,0.72,56,0.72,58,0.71,60,0.68,62,0.63,64,0.62,66,0.7,68,0.72,69,0.95,70,1,71,0.98,71.5,0,120,0],
 [0,1,3,0.96,6,0.93,9,0.92,12,0.9,15,0.9,18,0.91,21,0.9,24,0.88,27,0.84,30,0.82,33,0.78,36,0.76,39,0.74,42,0.72,45,0.71,48,0.72,51,0.74,54,0.74,56,0.72,58,0.68,60,0.6,62,0.5,64,0.42,66,0.3,68,0.15,69,0.05,70,0,120,0],
 [0,1,2,0.95,4,0.92,6,0.9,8,0.88,10,0.87,12,0.88,14,0.87,16,0.88,18,0.89,20,0.9,22,0.88,24,0.84,26,0.81,28,0.78,30,0.76,32,0.75,34,0.74,36,0.73,38,0.74,40,0.73,42,0.74,44,0.75,46,0.74,48,0.73,50,0.7,52,0.66,54,0.62,56,0.58,58,0.55,60,0.52,62,0.48,64,0.42,66,0.3,68,0.12,69,0.03,70,0,120,0],
 [0,1,3,0.99,6,0.98,9,0.97,12,0.97,15,0.98,18,0.98,21,0.99,24,0.99,30,1,82,1,82.5,0,120,0],
 [0,1,10,0.99,20,1,30,0.99,40,1,82,1,82.2,0,120,0],
 [0,1,82,1,82.2,0,120,0],
 [0,1,20,1,40,1,60,1,82,1,82.2,0,120,0],
 [0,1,3,0.97,6,0.96,9,0.95,12,0.95,15,0.94,18,0.94,21,0.93,24,0.92,27,0.88,30,0.85,33,0.82,36,0.78,39,0.76,42,0.75,45,0.74,48,0.75,51,0.75,54,0.72,56,0.67,58,0.6,60,0.55,62,0.5,64,0.35,66,0.2,68,0.08,69,0.02,70,0,120,0],
 [0,1,2,0.96,4,0.92,6,0.88,8,0.86,10,0.86,12,0.86,14,0.85,16,0.87,18,0.86,20,0.83,22,0.8,24,0.77,26,0.73,28,0.7,30,0.67,32,0.68,34,0.66,36,0.67,38,0.65,40,0.62,42,0.64,44,0.66,46,0.68,48,0.7,50,0.7,53,0.72,55,0.68,57,0.62,59,0.55,61,0.5,63,0.45,64,0.42,65,0.3,66,0.2,67,0.12,68,0.05,69.5,0,120,0],
 [0,1,2,0.94,4,0.9,6,0.86,8,0.83,10,0.81,12,0.8,14,0.82,16,0.81,18,0.82,20,0.8,22,0.79,24,0.78,26,0.75,28,0.7,30,0.68,32,0.68,34,0.66,36,0.67,38,0.64,40,0.62,42,0.64,44,0.66,46,0.68,48,0.7,50,0.7,52,0.72,54,0.7,56,0.62,58,0.55,60,0.5,62,0.47,63,0.44,64,0.35,66,0.2,68,0.06,69.5,0,120,0],
 [0,1,3,0.97,6,0.95,9,0.93,12,0.93,15,0.92,18,0.93,21,0.94,24,0.92,27,0.9,30,0.88,33,0.85,36,0.83,39,0.8,42,0.77,45,0.75,48,0.74,51,0.74,54,0.74,56,0.72,58,0.68,60,0.6,62,0.52,64,0.45,66,0.3,68,0.12,69,0.04,70,0,120,0]
];
const NESW_GC = [
 [0,1,2,0.92,4,0.86,6,0.83,8,0.8,10,0.78,12,0.78,14,0.8,16,0.82,18,0.78,20,0.7,22,0.64,24,0.57,26,0.5,28,0.42,30,0.36,32,0.32,34,0.34,36,0.32,38,0.27,40,0.24,42,0.2,44,0.23,46,0.28,48,0.34,50,0.3,52,0.35,54,0.36,56,0.3,58,0.2,60,0.05,61,0,120,0],
 [0,1,2,0.88,4,0.75,6,0.62,8,0.52,10,0.45,12,0.43,14,0.43,16,0.43,18,0.38,20,0.3,22,0.25,24,0.2,26,0.12,28,0.06,30,0.03,32,0.01,35,0,120,0],
 [0,1,2,0.92,4,0.87,6,0.84,8,0.83,10,0.82,12,0.8,14,0.8,16,0.8,18,0.78,20,0.76,22,0.72,24,0.68,26,0.62,28,0.56,30,0.5,32,0.46,34,0.42,36,0.38,38,0.32,40,0.3,42,0.35,44,0.42,46,0.45,48,0.47,50,0.5,52,0.55,54,0.6,56,0.66,58,0.6,60,0.55,62,0.52,64,0.55,65,0.5,66,0.4,67,0.3,68,0.15,69,0.05,70,0,120,0],
 [0,1,2,0.95,4,0.92,6,0.88,8,0.85,10,0.85,12,0.84,14,0.84,16,0.82,18,0.8,20,0.78,22,0.76,24,0.72,26,0.66,28,0.58,30,0.5,32,0.45,34,0.43,36,0.42,38,0.4,40,0.37,42,0.38,44,0.4,46,0.43,48,0.47,50,0.52,52,0.57,54,0.6,56,0.65,57,0.66,58,0.6,60,0.53,62,0.5,63,0.55,64,0.52,65,0.4,66,0.35,67,0.2,68,0.1,69,0.03,70,0,120,0],
 [0,1,2,0.98,4,0.97,6,0.96,8,0.96,10,0.95,12,0.95,14,0.94,16,0.93,18,0.92,20,0.9,22,0.88,24,0.87,26,0.86,28,0.84,30,0.82,32,0.8,34,0.78,36,0.76,38,0.77,40,0.75,42,0.76,44,0.75,46,0.75,48,0.74,50,0.72,52,0.72,54,0.7,56,0.65,58,0.6,60,0.58,62,0.55,63,0.56,64,0.45,65,0.42,66,0.3,68,0.15,69,0.05,70,0,120,0],
 [0,1,3,0.99,6,0.98,9,0.98,12,0.97,15,0.98,18,0.97,21,0.97,24,0.96,27,0.97,30,0.97,33,0.96,36,0.96,39,0.96,42,0.96,45,0.96,47,0.95,50,0.98,52,1,62,1,64,0.9,66,0.7,67,0.6,68,0.65,70,0.8,72,0.9,74,0.95,76,1,82,1,82.2,0,120,0],
 [0,1,82,1,82.2,0,120,0],
 [0,1,3,0.98,6,0.97,9,0.97,12,0.96,15,0.96,18,0.95,21,0.94,24,0.93,27,0.92,30,0.91,33,0.9,36,0.89,39,0.88,42,0.86,44,0.85,46,0.88,48,0.9,50,0.89,52,0.87,54,0.85,56,0.83,57,0.82,58,0.84,60,0.85,62,0.84,64,0.82,66,0.75,67,0.65,68,0.58,69,0.56,70,0.6,71,0.75,72,0.85,74,0.95,76,0.99,78,1,82,1,82.2,0,120,0],
 [0,1,2,0.95,4,0.93,6,0.9,8,0.89,10,0.87,12,0.85,14,0.8,16,0.77,18,0.76,20,0.73,22,0.72,24,0.7,26,0.68,28,0.64,30,0.6,32,0.55,34,0.48,36,0.42,38,0.36,40,0.31,42,0.28,43,0.27,44,0.3,46,0.38,48,0.43,50,0.45,52,0.48,54,0.56,56,0.63,57,0.55,59,0.52,60,0.55,62,0.45,64,0.3,66,0.18,68,0.06,69,0,120,0],
 [0,1,1,0.95,2,0.9,3,0.85,4,0.8,5,0.75,6,0.68,7,0.62,8,0.58,9,0.55,10,0.52,11,0.48,12,0.45,13,0.42,14,0.38,15,0.33,16,0.3,17,0.28,18,0.24,19,0.2,20,0.15,21,0.12,22,0.08,23,0.05,24,0.03,25,0.01,26,0,120,0],
 [0,1,1,0.93,2,0.85,3,0.8,4,0.75,5,0.72,6,0.68,7,0.65,8,0.6,9,0.56,10,0.52,12,0.49,14,0.48,16,0.47,18,0.45,20,0.42,22,0.38,24,0.35,26,0.3,28,0.22,30,0.12,32,0.06,34,0.02,36,0,120,0],
 [0,1,2,0.95,4,0.92,6,0.88,8,0.86,10,0.85,12,0.84,14,0.85,16,0.83,18,0.85,20,0.86,22,0.84,24,0.8,26,0.76,28,0.72,30,0.68,32,0.65,34,0.62,36,0.6,38,0.62,40,0.64,42,0.6,44,0.62,46,0.63,48,0.65,50,0.66,52,0.67,54,0.69,56,0.68,58,0.62,60,0.55,62,0.52,64,0.55,65,0.5,66,0.38,67,0.25,68,0.12,69,0.04,70,0,120,0]
];
const NESW_EC = [
 [0,1,2,0.9,3,0.8,5,0.76,6,0.78,8,0.85,9,0.8,10,0.72,12,0.65,13,0.55,14,0.4,15,0.3,16,0.33,17,0.28,18,0.22,19,0.26,20,0.2,21,0.25,22,0.22,23,0.15,24,0.12,25,0.2,26,0.05,27,0,120,0],
 [0,1,1,0.9,2,0.96,3,0.88,4,0.8,5,0.85,6,0.82,7,0.75,8,0.88,9,0.6,10,0.9,11,0.55,12,0.6,13,0.88,14,0.5,15,0.55,16,0.92,17,1,18,0.7,19,0.5,20,0.72,21,0.45,22,0.62,23,0.45,24,0.78,25,0.75,26,0.4,27,0,120,0],
 [0,1,1,0.95,2,0.85,3,0.7,4,0.62,5,0.64,6,0.66,7,0.65,8,0.6,9,0.55,10,0.5,11,0.48,12,0.4,13,0.35,14,0.3,15,0.2,16,0.17,17,0.22,18,0.25,19,0.27,20,0.26,21,0.3,22,0.32,23,0.25,24,0.15,25,0.2,26,0.22,27,0.05,28,0,120,0],
 [0,1,2,0.96,4,0.93,6,0.9,8,0.87,10,0.82,11,0.75,12,0.65,13,0.5,14,0.4,15,0.32,16,0.3,17,0.36,18,0.4,19,0.38,20,0.3,21,0.25,22,0.2,23,0.15,24,0.1,25,0.08,26,0.06,27,0.02,28,0,120,0],
 [0,1,2,0.97,3,0.92,4,0.85,5,0.82,6,0.8,7,0.82,8,0.78,9,0.72,10,0.65,11,0.58,12,0.52,13,0.45,14,0.4,15,0.35,16,0.28,17,0.22,18,0.18,19,0.16,20,0.14,21,0.12,22,0.13,23,0.1,24,0.08,25,0.05,26,0.03,27,0,120,0],
 [0,1,3,0.99,6,0.98,9,0.98,12,0.97,15,0.96,18,0.94,20,0.9,21,0.86,22,0.85,23,0.88,24,0.92,25,0.96,26,0.97,28,0.95,29,0.93,30,0.88,31,0.75,32,0.5,33,0.25,34,0.05,35,0,120,0],
 [0,1,1,0.97,2,0.9,3,0.82,4,0.87,5,0.78,6,0.72,7,0.5,7.5,0.2,8,0,120,0],
 [0,1,1,0.98,2,0.97,3,0.98,4,0.99,5,0.97,6,0.95,7,0.93,8,0.9,9,0.88,10,0.87,11,0.86,12,0.86,13,0.8,14,0.65,15,0.45,16,0.25,17,0.08,18,0,120,0],
 [0,1,2,0.98,4,0.97,6,0.96,8,0.95,10,0.95,12,0.92,13,0.85,14,0.75,15,0.6,16,0.56,17,0.55,18,0.48,19,0.42,20,0.36,21,0.38,22,0.42,23,0.36,24,0.44,25,0.35,26,0.44,27,0.3,28,0,120,0],
 [0,1,1,0.98,2,0.97,3,1,4,0.96,5,0.97,6,0.94,7,0.99,8,0.98,9,0.93,10,0.92,11,0.95,12,0.88,13,0.96,14,0.9,15,0.5,16,0,120,0],
 [0,1,1,0.95,2,0.88,3,0.8,4,0.72,5,0.75,6,0.7,7,0.76,8,0.72,9,0.75,10,0.72,11,0.6,12,0.72,13,0.55,14,0.45,15,0.25,16,0.4,17,0.65,18,0.45,19,0.3,20,0.55,21,0.48,22,0.28,23,0.5,24,0.7,25,0.45,26,0.2,27,0,120,0],
 [0,1,1,0.96,2,0.92,3,0.87,4,0.84,5,0.82,6,0.8,7,0.78,8,0.74,9,0.68,10,0.6,11,0.5,12,0.4,13,0.32,14,0.25,15,0.2,16,0.17,17,0.16,18,0.17,19,0.14,20,0.15,21,0.13,22,0.1,23,0.08,24,0.1,25,0.05,26,0.02,27,0,120,0]
];

// ---- layout ----
const W = 1394, H = 1422;
const colors = ["#ff0000", "#00ff00", "#0000ff"];
const ink = "#262626";
const boxStroke = "#4d4d4d";
const BL = [2, 80];   // month tag at lower-left corner

const panels = [
  { title: "(a) N-S connectivity", data: [NS_TC, NS_GC, NS_EC], ticks: xTicksAB,
    cols: [75, 302, 529], rows: [57, 214, 371, 528], w: 170, h: 110, xLabelDy: 55,
    titleAt: [75, 37], legendAt: [449, 15], yLabel: true,
    tags: [BL, BL, BL, BL, BL, BL, [53, 80], [50, 80], [51, 80], BL, BL, BL] },
  { title: "(b) W-E connectivity", data: [WE_TC, WE_GC, WE_EC], ticks: xTicksAB,
    cols: [757, 984, 1211], rows: [57, 214, 371, 528], w: 170, h: 110, xLabelDy: 55,
    titleAt: [757, 37], legendAt: [1124, 13], yLabel: false,
    tags: [[105, 37], [105, 41], [111, 29], BL, [99, 80], BL, [93, 80], [82, 80], [89, 80], [82, 80], [86, 80], [123, 28]] },
  { title: "(c) NW-SE connectivity", data: [NWSE_TC, NWSE_GC, NWSE_EC], ticks: xTicksCD,
    cols: [75, 302, 529], rows: [784, 941, 1098, 1255], w: 165, h: 110, xLabelDy: 50,
    titleAt: [75, 764], legendAt: [446, 742], yLabel: true,
    tags: [BL, [118, 80], BL, BL, BL, BL, [53, 80], [50, 80], BL, [118, 80], [119, 80], BL] },
  { title: "(d) NE-SW connectivity", data: [NESW_TC, NESW_GC, NESW_EC], ticks: xTicksCD,
    cols: [757, 984, 1211], rows: [784, 941, 1098, 1255], w: 165, h: 110, xLabelDy: 50,
    titleAt: [757, 764], legendAt: [1124, 740], yLabel: false,
    tags: [[104, 36], [104, 39], [108, 43], [117, 79], [119, 79], BL, [117, 79], [117, 79], [117, 79], [117, 79], [117, 79], [117, 79]] }
];

const svg = d3.select("#fig");
svg.append("rect").attr("width", W).attr("height", H).attr("fill", "#fff");

// panel separators
svg.append("rect").attr("x", 711).attr("y", 20).attr("width", 10).attr("height", 695).attr("fill", "#efefef");
svg.append("rect").attr("x", 711).attr("y", 730).attr("width", 10).attr("height", 670).attr("fill", "#e6f1e6");

const toPoints = flat => d3.range(0, flat.length, 2).map(i => [flat[i], flat[i + 1]]);
const yFmt = d => d === 0 ? "0" : d === 1 ? "1" : String(d);

function styleAxis(sel, size) {
  sel.select(".domain").remove();
  sel.selectAll(".tick line").attr("stroke", boxStroke);
  sel.selectAll(".tick text").attr("fill", ink).attr("font-size", size)
     .attr("font-family", "Liberation Serif, Times New Roman, serif");
  sel.attr("font-family", null);
}

panels.forEach(p => {
  const xmax = p.ticks[p.ticks.length - 1];
  const x = d3.scaleLinear().domain([0, xmax]).range([0, p.w]);
  const y = d3.scaleLinear().domain([0, 1]).range([p.h, 0]);
  const line = d3.line().x(d => x(d[0])).y(d => y(d[1]));

  // title
  svg.append("text").attr("x", p.titleAt[0]).attr("y", p.titleAt[1])
     .attr("font-size", 21).attr("fill", ink).text(p.title);

  // legend
  const lg = svg.append("g").attr("transform", `translate(${p.legendAt[0]},${p.legendAt[1]})`);
  lg.append("rect").attr("width", 229).attr("height", 28).attr("fill", "#fff")
    .attr("stroke", ink).attr("stroke-width", 1);
  const lgX = [6, 82, 158];
  seriesNames.forEach((s, k) => {
    lg.append("line").attr("x1", lgX[k]).attr("x2", lgX[k] + 38).attr("y1", 14).attr("y2", 14)
      .attr("stroke", colors[k]).attr("stroke-width", 2);
    lg.append("text").attr("x", lgX[k] + 42).attr("y", 20.5).attr("font-size", 19)
      .attr("fill", ink).text(s);
  });

  months.forEach((m, i) => {
    const col = i % 3, row = Math.floor(i / 3);
    const g = svg.append("g").attr("transform", `translate(${p.cols[col]},${p.rows[row]})`);

    g.append("rect").attr("width", p.w).attr("height", p.h).attr("fill", "#fff");

    // axes with inward ticks on all four sides
    g.append("g").attr("transform", `translate(0,${p.h})`)
      .call(d3.axisBottom(x).tickValues(p.ticks).tickSize(-3).tickPadding(13).tickSizeOuter(0))
      .call(s => styleAxis(s, 20));
    g.append("g")
      .call(d3.axisTop(x).tickValues(p.ticks).tickSize(-3).tickFormat("").tickSizeOuter(0))
      .call(s => styleAxis(s, 20));
    g.append("g")
      .call(d3.axisLeft(y).tickValues(yTicks).tickSize(-3).tickPadding(7).tickFormat(yFmt).tickSizeOuter(0))
      .call(s => styleAxis(s, 20));
    g.append("g").attr("transform", `translate(${p.w},0)`)
      .call(d3.axisRight(y).tickValues(yTicks).tickSize(-3).tickFormat("").tickSizeOuter(0))
      .call(s => styleAxis(s, 20));

    g.append("rect").attr("width", p.w).attr("height", p.h).attr("fill", "none")
      .attr("stroke", boxStroke).attr("stroke-width", 1);

    // TC, GC, EC curves
    p.data.forEach((series, k) => {
      g.append("path").attr("d", line(toPoints(series[i])))
        .attr("fill", "none").attr("stroke", colors[k]).attr("stroke-width", 1.8)
        .attr("stroke-linejoin", "round");
    });

    // month tag
    const t = p.tags[i];
    g.append("rect").attr("x", t[0]).attr("y", t[1]).attr("width", 46).attr("height", 28)
      .attr("fill", "#efefef").attr("stroke", "#d6d6d6").attr("stroke-width", 1);
    g.append("text").attr("x", t[0] + 23).attr("y", t[1] + 19.5).attr("text-anchor", "middle")
      .attr("font-size", 17).attr("fill", ink).text(m);

    if (p.yLabel && col === 0) {
      g.append("text").attr("transform", `translate(-53,${p.h / 2}) rotate(-90)`)
        .attr("text-anchor", "middle").attr("dy", "0.35em")
        .attr("font-size", 23).attr("fill", ink).text("CF (-)");
    }
    if (row === 3) {
      g.append("text").attr("x", p.w / 2).attr("y", p.h + p.xLabelDy).attr("text-anchor", "middle")
        .attr("font-size", 23).attr("fill", ink).text("Distance (km)");
    }
  });
});
</script>
</body>
</html>
